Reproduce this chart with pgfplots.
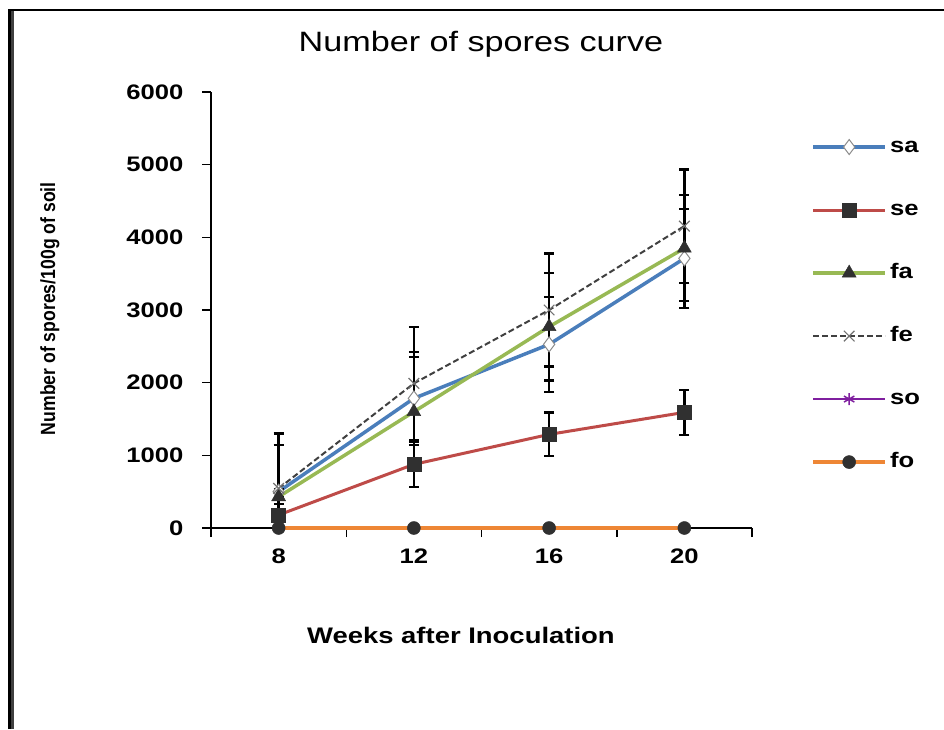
\documentclass[border=0pt]{standalone}
\usepackage{fontspec}
\setmainfont{Liberation Sans}
\newfontfamily\wide[FakeStretch=1.22]{Liberation Sans}
\newfontfamily\narrow[FakeStretch=0.86]{Liberation Sans}
\usepackage{pgfplots}
\pgfplotsset{compat=1.18}
\usetikzlibrary{plotmarks}
\definecolor{csa}{HTML}{4A7EBB}
\definecolor{cse}{HTML}{BE4B48}
\definecolor{cfa}{HTML}{98B954}
\definecolor{cfe}{HTML}{404040}
\definecolor{cso}{HTML}{7F1F9F}
\definecolor{cfo}{HTML}{EE8635}
\definecolor{cmk}{HTML}{303030}
\begin{document}
\begin{tikzpicture}[x=1pt,y=1pt]
\path[use as bounding box] (0,0) rectangle (944,729);
\draw[line width=2pt] (8,719) -- (944,719);
\draw[line width=2.5pt] (9.25,0) -- (9.25,720);
\draw[line width=3pt, color=black!75] (12.5,0) -- (12.5,717.5);
\begin{axis}[
  at={(211pt,201pt)}, anchor=south west,
  scale only axis, width=541pt, height=436pt,
  xmin=-0.5, xmax=3.5, ymin=0, ymax=6000,
  clip=false,
  axis x line*=bottom, axis y line*=left,
  axis line style={line width=1.5pt,-},
  xtick={-0.5,0.5,1.5,2.5,3.5},
  xticklabels={8,12,16,20},
  x tick label as interval,
  ytick={0,1000,2000,3000,4000,5000,6000},
  tick align=outside, major tick length=9pt,
  tick style={line width=1.5pt, black},
  scaled y ticks=false,
  /pgf/number format/assume math mode=true,
  /pgf/number format/1000 sep={},
  tick label style={font=\wide\bfseries\fontsize{21}{21}\selectfont},
  yticklabel style={xshift=-15pt},
  xticklabel style={yshift=-8pt},
  title={Number of spores curve},
  title style={at={(axis description cs:0.499,1.078)}, anchor=base, font=\wide\fontsize{28}{28}\selectfont},
  xlabel={Weeks after Inoculation},
  xlabel style={at={(axis description cs:0.462,-0.264)}, anchor=base, font=\wide\bfseries\fontsize{22.5}{22.5}\selectfont},
  ylabel={Number of spores/100g of soil},
  ylabel style={at={(axis description cs:-0.288,0.503)}, anchor=base, rotate=0, font=\narrow\bfseries\fontsize{20.5}{20.5}\selectfont},
  legend style={at={(axis description cs:1.109,0.904)}, anchor=north west, draw=none, fill=none,
     inner sep=0pt, row sep=37pt,
     nodes={inner sep=3pt, text height=15pt, text depth=5pt},
     font=\wide\bfseries\fontsize{21}{21}\selectfont},
  legend cell align=left,
  legend image code/.code={\draw[mark repeat=2,mark phase=2] plot coordinates {(0pt,0pt) (36pt,0pt) (72pt,0pt)};},
  error bars/error bar style={line width=2.3pt, black, solid},
  error bars/error mark options={rotate=90, line width=2.3pt, black, mark size=5pt, solid},
]
% sa
\addplot[color=csa, line width=3.5pt, mark=diamond*, mark size=7.5pt,
  mark options={fill=white, draw=black!45, line width=1pt, solid},
  error bars/.cd, y dir=both, y explicit]
  table[x=x, y=y, y error plus=ep, y error minus=em] {
x y ep em
0 500 640 500
1 1784 641 641
2 2527 655 655
3 3710 680 680
};
\addlegendentry{sa}
% se
\addplot[color=cse, line width=3pt, mark=square*, mark size=7pt,
  mark options={fill=cmk, draw=cmk, line width=0.5pt, solid},
  error bars/.cd, y dir=both, y explicit]
  table[x=x, y=y, y error plus=ep, y error minus=em] {
x y ep em
0 179 250 179
1 876 310 310
2 1288 300 300
3 1591 310 310
};
\addlegendentry{se}
% fa
\addplot[color=cfa, line width=3.5pt, mark=triangle*, mark size=8pt,
  mark options={fill=cmk, draw=cmk, line width=0.5pt, solid},
  error bars/.cd, y dir=both, y explicit]
  table[x=x, y=y, y error plus=ep, y error minus=em] {
x y ep em
0 430 100 100
1 1600 757 757
2 2770 742 742
3 3850 730 730
};
\addlegendentry{fa}
% fe
\addplot[color=cfe, line width=2pt, dash pattern=on 6pt off 3pt, mark=x, mark size=7.5pt,
  mark options={draw=black!55, line width=1.2pt, solid},
  error bars/.cd, y dir=both, y explicit]
  table[x=x, y=y, y error plus=ep, y error minus=em] {
x y ep em
0 545 755 545
1 1990 780 780
2 3000 778 778
3 4155 780 780
};
\addlegendentry{fe}
% so
\addplot[color=cso, line width=2pt, mark=asterisk, mark size=6pt,
  mark options={draw=cso, line width=1.5pt, solid}]
  table[x=x, y=y] {
x y
0 0
1 0
2 0
3 0
};
\addlegendentry{so}
% fo
\addplot[color=cfo, line width=4pt, mark=*, mark size=6.5pt,
  mark options={fill=cmk, draw=cmk, line width=0.5pt, solid}]
  table[x=x, y=y] {
x y
0 0
1 0
2 0
3 0
};
\addlegendentry{fo}
\end{axis}
\end{tikzpicture}
\end{document}
